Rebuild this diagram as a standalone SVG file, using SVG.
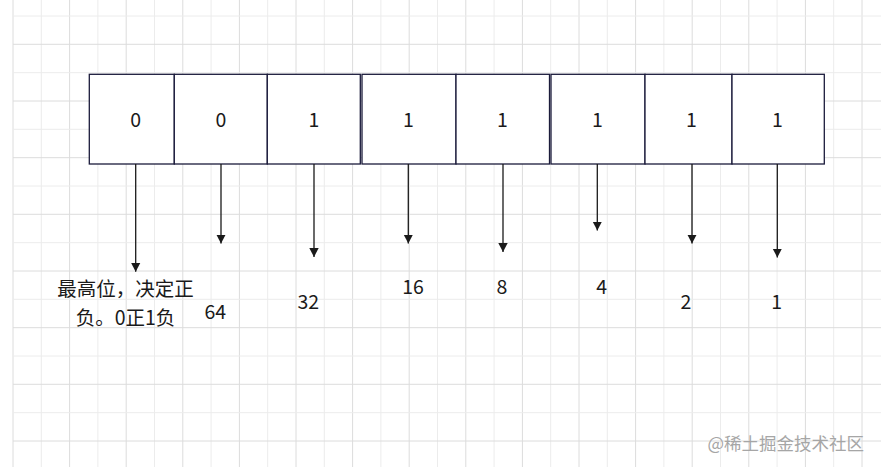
<svg xmlns="http://www.w3.org/2000/svg" width="881" height="467" viewBox="0 0 881 467">
<defs>
<style>
.gl{stroke:#ececec;stroke-width:1}
.gd{stroke:#dcdcdc;stroke-width:1}
.box{fill:#ffffff;stroke:#1b1b3b;stroke-width:1.3}
.t{font-family:"Noto Sans CJK SC","Noto Sans",sans-serif;font-size:19.5px;fill:#1a1a1a;text-anchor:middle}
.con{stroke:#1a1a1a;stroke-width:1.3;fill:none;marker-end:url(#ah)}
.wm{font-family:"Noto Sans CJK SC","Noto Sans",sans-serif;font-size:17.5px;fill:#a6a6a6;text-anchor:end}
</style>
<marker id="ah" markerUnits="userSpaceOnUse" markerWidth="10" markerHeight="10" viewBox="0 0 10 10" refX="9" refY="5" orient="auto">
<path d="M0,0.3 L9,5 L0,9.7 Z" fill="#1a1a1a"/>
</marker>
</defs>
<rect x="0" y="0" width="881" height="467" fill="#ffffff"/>
<g id="grid">
<line class="gd" x1="13" y1="0" x2="13" y2="467"/>
<line class="gl" x1="41.3" y1="0" x2="41.3" y2="467"/>
<line class="gd" x1="69.6" y1="0" x2="69.6" y2="467"/>
<line class="gl" x1="97.9" y1="0" x2="97.9" y2="467"/>
<line class="gd" x1="126.2" y1="0" x2="126.2" y2="467"/>
<line class="gl" x1="154.5" y1="0" x2="154.5" y2="467"/>
<line class="gd" x1="182.8" y1="0" x2="182.8" y2="467"/>
<line class="gl" x1="211.1" y1="0" x2="211.1" y2="467"/>
<line class="gd" x1="239.4" y1="0" x2="239.4" y2="467"/>
<line class="gl" x1="267.7" y1="0" x2="267.7" y2="467"/>
<line class="gd" x1="296" y1="0" x2="296" y2="467"/>
<line class="gl" x1="324.3" y1="0" x2="324.3" y2="467"/>
<line class="gd" x1="352.6" y1="0" x2="352.6" y2="467"/>
<line class="gl" x1="380.9" y1="0" x2="380.9" y2="467"/>
<line class="gd" x1="409.2" y1="0" x2="409.2" y2="467"/>
<line class="gl" x1="437.5" y1="0" x2="437.5" y2="467"/>
<line class="gd" x1="465.8" y1="0" x2="465.8" y2="467"/>
<line class="gl" x1="494.1" y1="0" x2="494.1" y2="467"/>
<line class="gd" x1="522.4" y1="0" x2="522.4" y2="467"/>
<line class="gl" x1="550.7" y1="0" x2="550.7" y2="467"/>
<line class="gd" x1="579" y1="0" x2="579" y2="467"/>
<line class="gl" x1="607.3" y1="0" x2="607.3" y2="467"/>
<line class="gd" x1="635.6" y1="0" x2="635.6" y2="467"/>
<line class="gl" x1="663.9" y1="0" x2="663.9" y2="467"/>
<line class="gd" x1="692.2" y1="0" x2="692.2" y2="467"/>
<line class="gl" x1="720.5" y1="0" x2="720.5" y2="467"/>
<line class="gd" x1="748.8" y1="0" x2="748.8" y2="467"/>
<line class="gl" x1="777.1" y1="0" x2="777.1" y2="467"/>
<line class="gd" x1="805.4" y1="0" x2="805.4" y2="467"/>
<line class="gl" x1="833.7" y1="0" x2="833.7" y2="467"/>
<line class="gd" x1="862" y1="0" x2="862" y2="467"/>
<line class="gl" x1="13" y1="16" x2="881" y2="16"/>
<line class="gd" x1="13" y1="44.3" x2="881" y2="44.3"/>
<line class="gl" x1="13" y1="72.7" x2="881" y2="72.7"/>
<line class="gd" x1="13" y1="101" x2="881" y2="101"/>
<line class="gl" x1="13" y1="129.3" x2="881" y2="129.3"/>
<line class="gd" x1="13" y1="157.7" x2="881" y2="157.7"/>
<line class="gl" x1="13" y1="186" x2="881" y2="186"/>
<line class="gd" x1="13" y1="214.3" x2="881" y2="214.3"/>
<line class="gl" x1="13" y1="242.7" x2="881" y2="242.7"/>
<line class="gd" x1="13" y1="271" x2="881" y2="271"/>
<line class="gl" x1="13" y1="299.3" x2="881" y2="299.3"/>
<line class="gd" x1="13" y1="327.7" x2="881" y2="327.7"/>
<line class="gl" x1="13" y1="356" x2="881" y2="356"/>
<line class="gd" x1="13" y1="384.3" x2="881" y2="384.3"/>
<line class="gl" x1="13" y1="412.7" x2="881" y2="412.7"/>
<line class="gd" x1="13" y1="441" x2="881" y2="441"/>
</g>
<g id="bit7"><rect class="box" x="89.3" y="74.3" width="85" height="89.7"/><text class="t" x="135.7" y="127.3">0</text></g>
<g id="bit6"><rect class="box" x="174.3" y="74.3" width="93" height="89.7"/><text class="t" x="221" y="127.3">0</text></g>
<g id="bit5"><rect class="box" x="267.3" y="74.3" width="93" height="89.7"/><text class="t" x="314" y="127.3">1</text></g>
<g id="bit4"><rect class="box" x="362" y="74.3" width="94" height="89.7"/><text class="t" x="408.3" y="127.3">1</text></g>
<g id="bit3"><rect class="box" x="456" y="74.3" width="93.5" height="89.7"/><text class="t" x="502.3" y="127.3">1</text></g>
<g id="bit2"><rect class="box" x="551" y="74.3" width="94" height="89.7"/><text class="t" x="597.3" y="127.3">1</text></g>
<g id="bit1"><rect class="box" x="645" y="74.3" width="87" height="89.7"/><text class="t" x="691.5" y="127.3">1</text></g>
<g id="bit0"><rect class="box" x="732" y="74.3" width="92.3" height="89.7"/><text class="t" x="777.3" y="127.3">1</text></g>
<g id="connectors">
<line class="con" x1="135.7" y1="164" x2="135.7" y2="271.7"/>
<line class="con" x1="221" y1="164" x2="221" y2="243.5"/>
<line class="con" x1="314" y1="164" x2="314" y2="257"/>
<line class="con" x1="408.3" y1="164" x2="408.3" y2="243.5"/>
<line class="con" x1="503" y1="164" x2="503" y2="252"/>
<line class="con" x1="597.3" y1="164" x2="597.3" y2="230.5"/>
<line class="con" x1="692" y1="164" x2="692" y2="243.5"/>
<line class="con" x1="777.3" y1="164" x2="777.3" y2="257.5"/>
</g>
<g id="label-sign"><text class="t" x="125.5" y="296"><tspan x="125.5" y="296">最高位，决定正</tspan><tspan x="125.5" y="324.5">负。0正1负</tspan></text></g>
<g id="label-64"><text class="t" x="215.3" y="319">64</text></g>
<g id="label-32"><text class="t" x="308.3" y="309">32</text></g>
<g id="label-16"><text class="t" x="413" y="294">16</text></g>
<g id="label-8"><text class="t" x="502" y="294">8</text></g>
<g id="label-4"><text class="t" x="601.7" y="294">4</text></g>
<g id="label-2"><text class="t" x="686" y="309">2</text></g>
<g id="label-1"><text class="t" x="776.7" y="309">1</text></g>
<text class="wm" x="864" y="449.5">@稀土掘金技术社区</text>
</svg>
